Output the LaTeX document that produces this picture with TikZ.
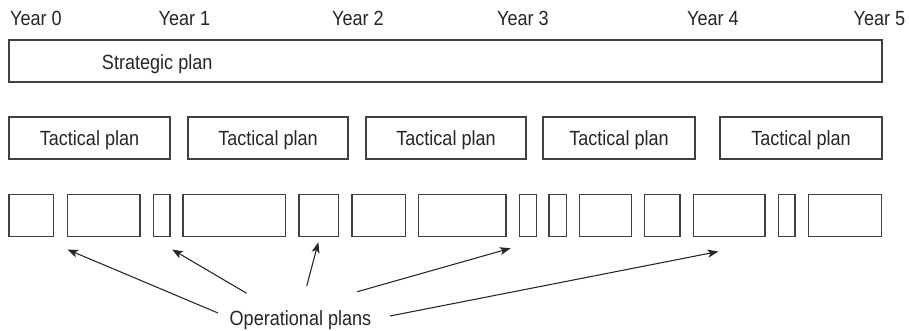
\documentclass[tikz,border=0pt]{standalone}
\usepackage{fontspec}
\setmainfont{Liberation Sans}[FakeStretch=0.88]
\usetikzlibrary{arrows.meta}

\tikzset{
  planbox/.style={draw=black!75, line width=0.8pt, inner sep=0pt},
  plantext/.style={font=\fontsize{15.4}{18}\selectfont, text=black!85},
  pointer/.style={draw=black!85, line width=0.8pt, -{Stealth[length=8pt,width=6pt,inset=2pt]}}
}

\begin{document}
\begin{tikzpicture}[x=0.75pt,y=-0.75pt]
    \useasboundingbox (0,0) rectangle (909,331);
    % years
    \foreach \x/\n in {36/0,184.5/1,358/2,523/3,713/4,879.5/5}
	\node[plantext,anchor=base] (year\n) at (\x,25.5) {Year \n};
    % strategic
    \node[planbox,minimum width={873*0.75pt},minimum height={42*0.75pt}] (strat) at (445.5,61) {};
    \node[plantext,anchor=base west,inner sep=0pt] (stratlbl) at (101.7,70) {Strategic plan};
    % tactical
    \foreach \a/\b [count=\i] in {9/170,188/348,366/526,543/695,720/882}
	\node[planbox,plantext,minimum width={(\b-\a)*0.75pt},minimum height={42*0.75pt},
	      text height=11pt,text depth=0pt] (tac\i) at ({(\a+\b)/2},138) {Tactical plan};
    % operational
    \foreach \a/\b [count=\i] in {9/53.3,67.3/140,153.7/170,183/285.7,299/338.3,352/405.3,
				  418.7/506,519.3/536.3,549/566.3,579.3/631.7,644.7/680,
				  693.3/765,778.3/795,808.3/881.7}
	\node[planbox,minimum width={(\b-\a)*0.75pt},minimum height={42.4*0.75pt}] (op\i) at ({(\a+\b)/2},215.5) {};
    \node[plantext,anchor=base] (ops) at (300.5,325) {Operational plans};
    \draw[pointer] ([shift={(-82.5,-12)}]ops.base) -- ([shift={(0.7,12.3)}]op2.south west);
    \draw[pointer] ([shift={(-53.8,-31.7)}]ops.base) -- ([shift={(1.7,12.3)}]op3.south east);
    \draw[pointer] ([shift={(6.2,-39)}]ops.base) -- ([shift={(-0.3,5)}]op5.south);
    \draw[pointer] ([shift={(56.8,-33.3)}]ops.base) -- ([shift={(4,11)}]op7.south east);
    \draw[pointer] ([shift={(89.5,-9)}]ops.base) -- ([shift={(-10.8,14.3)}]op12.south);
\end{tikzpicture}
\end{document}
